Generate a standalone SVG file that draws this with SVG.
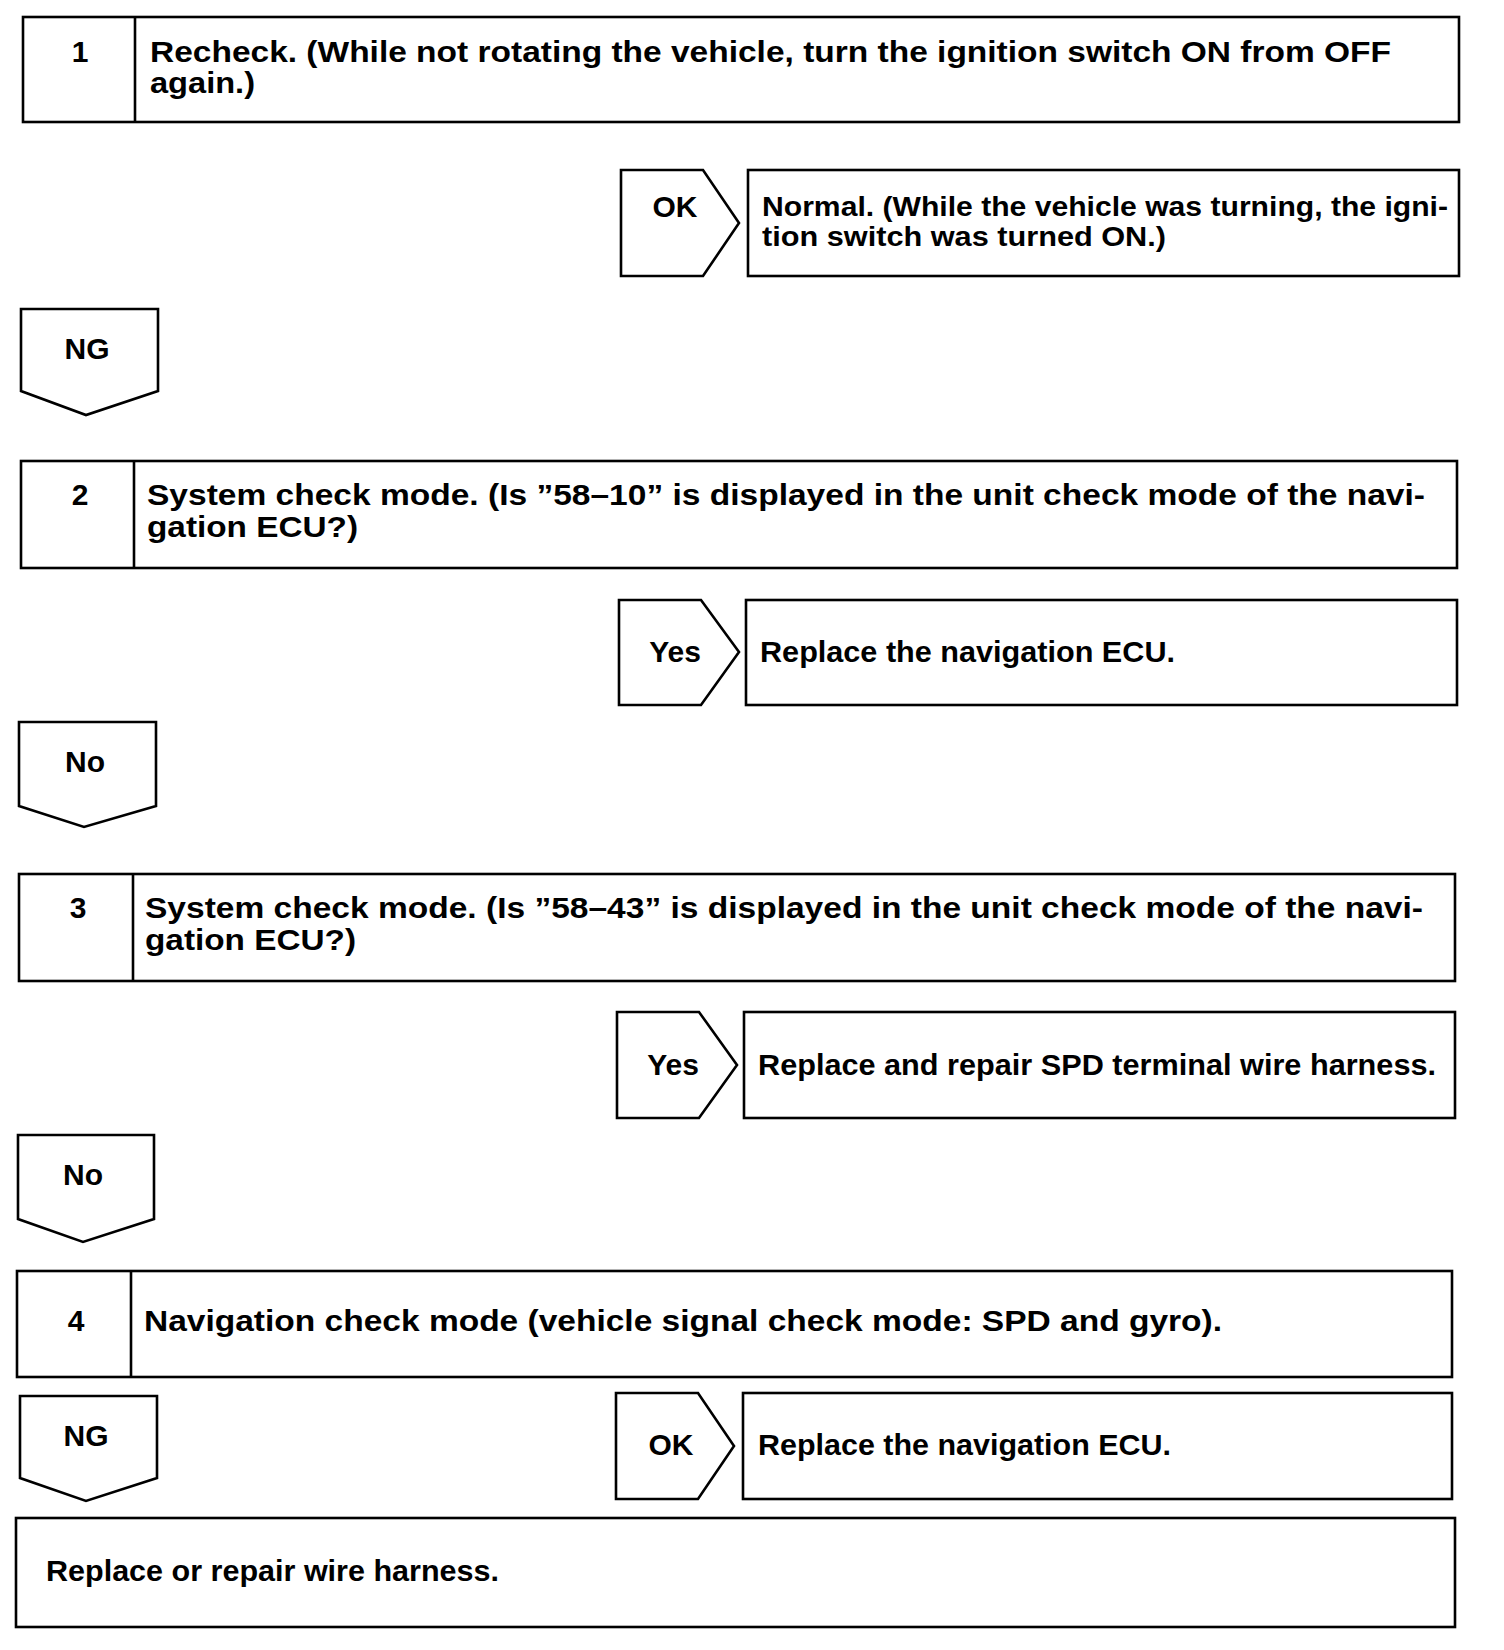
<svg xmlns="http://www.w3.org/2000/svg" width="1504" height="1650" viewBox="0 0 1504 1650">
<style>
.b{fill:#fff;stroke:#000;stroke-width:2.6;stroke-linejoin:miter}
.l{stroke:#000;stroke-width:2.6}
.t{font-family:"Liberation Sans",Arial,sans-serif;font-weight:bold;font-size:30px;fill:#000}
.s{font-size:27px}
.c{text-anchor:middle}
</style>
<rect width="1504" height="1650" fill="#fff"/>
<g id="connectors"></g>
<g id="step1">
<rect class="b" x="23" y="17" width="1436" height="105"/>
<line class="l" x1="135" y1="17" x2="135" y2="122"/>
<text class="t c" x="80" y="62">1</text>
<text class="t" x="150" y="62" textLength="1241" lengthAdjust="spacingAndGlyphs">Recheck. (While not rotating the vehicle, turn the ignition switch ON from OFF</text>
<text class="t" x="150" y="93" textLength="105" lengthAdjust="spacingAndGlyphs">again.)</text>
</g>
<g id="ok1">
<polygon class="b" points="621,170 703,170 739,223 703,276 621,276"/>
<text class="t c" x="675" y="217">OK</text>
</g>
<g id="result1">
<rect class="b" x="748" y="170" width="711" height="106"/>
<text class="t s" x="762" y="216" textLength="686" lengthAdjust="spacingAndGlyphs">Normal. (While the vehicle was turning, the igni-</text>
<text class="t s" x="762" y="246" textLength="404" lengthAdjust="spacingAndGlyphs">tion switch was turned ON.)</text>
</g>
<g id="ng1">
<polygon class="b" points="21,309 158,309 158,391 86,415 21,391"/>
<text class="t c" x="87" y="359">NG</text>
</g>
<g id="step2">
<rect class="b" x="21" y="461" width="1436" height="107"/>
<line class="l" x1="134" y1="461" x2="134" y2="568"/>
<text class="t c" x="80" y="505">2</text>
<text class="t" x="147" y="505" textLength="1278" lengthAdjust="spacingAndGlyphs">System check mode. (Is ”58–10” is displayed in the unit check mode of the navi-</text>
<text class="t" x="147" y="537" textLength="211" lengthAdjust="spacingAndGlyphs">gation ECU?)</text>
</g>
<g id="yes2">
<polygon class="b" points="619,600 701,600 739,652 701,705 619,705"/>
<text class="t c" x="675" y="662">Yes</text>
</g>
<g id="result2">
<rect class="b" x="746" y="600" width="711" height="105"/>
<text class="t" x="760" y="662" textLength="415" lengthAdjust="spacingAndGlyphs">Replace the navigation ECU.</text>
</g>
<g id="no2">
<polygon class="b" points="19,722 156,722 156,806 84,827 19,806"/>
<text class="t c" x="85" y="772">No</text>
</g>
<g id="step3">
<rect class="b" x="19" y="874" width="1436" height="107"/>
<line class="l" x1="133" y1="874" x2="133" y2="981"/>
<text class="t c" x="78" y="918">3</text>
<text class="t" x="145" y="918" textLength="1278" lengthAdjust="spacingAndGlyphs">System check mode. (Is ”58–43” is displayed in the unit check mode of the navi-</text>
<text class="t" x="145" y="950" textLength="211" lengthAdjust="spacingAndGlyphs">gation ECU?)</text>
</g>
<g id="yes3">
<polygon class="b" points="617,1012 699,1012 737,1065 699,1118 617,1118"/>
<text class="t c" x="673" y="1075">Yes</text>
</g>
<g id="result3">
<rect class="b" x="744" y="1012" width="711" height="106"/>
<text class="t" x="758" y="1075" textLength="678" lengthAdjust="spacingAndGlyphs">Replace and repair SPD terminal wire harness.</text>
</g>
<g id="no3">
<polygon class="b" points="18,1135 154,1135 154,1219 83,1242 18,1219"/>
<text class="t c" x="83" y="1185">No</text>
</g>
<g id="step4">
<rect class="b" x="17" y="1271" width="1435" height="106"/>
<line class="l" x1="131" y1="1271" x2="131" y2="1377"/>
<text class="t c" x="76" y="1331">4</text>
<text class="t" x="144" y="1331" textLength="1078" lengthAdjust="spacingAndGlyphs">Navigation check mode (vehicle signal check mode: SPD and gyro).</text>
</g>
<g id="ng4">
<polygon class="b" points="20,1396 157,1396 157,1478 86,1501 20,1478"/>
<text class="t c" x="86" y="1446">NG</text>
</g>
<g id="ok4">
<polygon class="b" points="616,1393 698,1393 734,1446 698,1499 616,1499"/>
<text class="t c" x="671" y="1455">OK</text>
</g>
<g id="result4">
<rect class="b" x="743" y="1393" width="709" height="106"/>
<text class="t" x="758" y="1455" textLength="413" lengthAdjust="spacingAndGlyphs">Replace the navigation ECU.</text>
</g>
<g id="final">
<rect class="b" x="16" y="1518" width="1439" height="109"/>
<text class="t" x="46" y="1581" textLength="453" lengthAdjust="spacingAndGlyphs">Replace or repair wire harness.</text>
</g>
</svg>
